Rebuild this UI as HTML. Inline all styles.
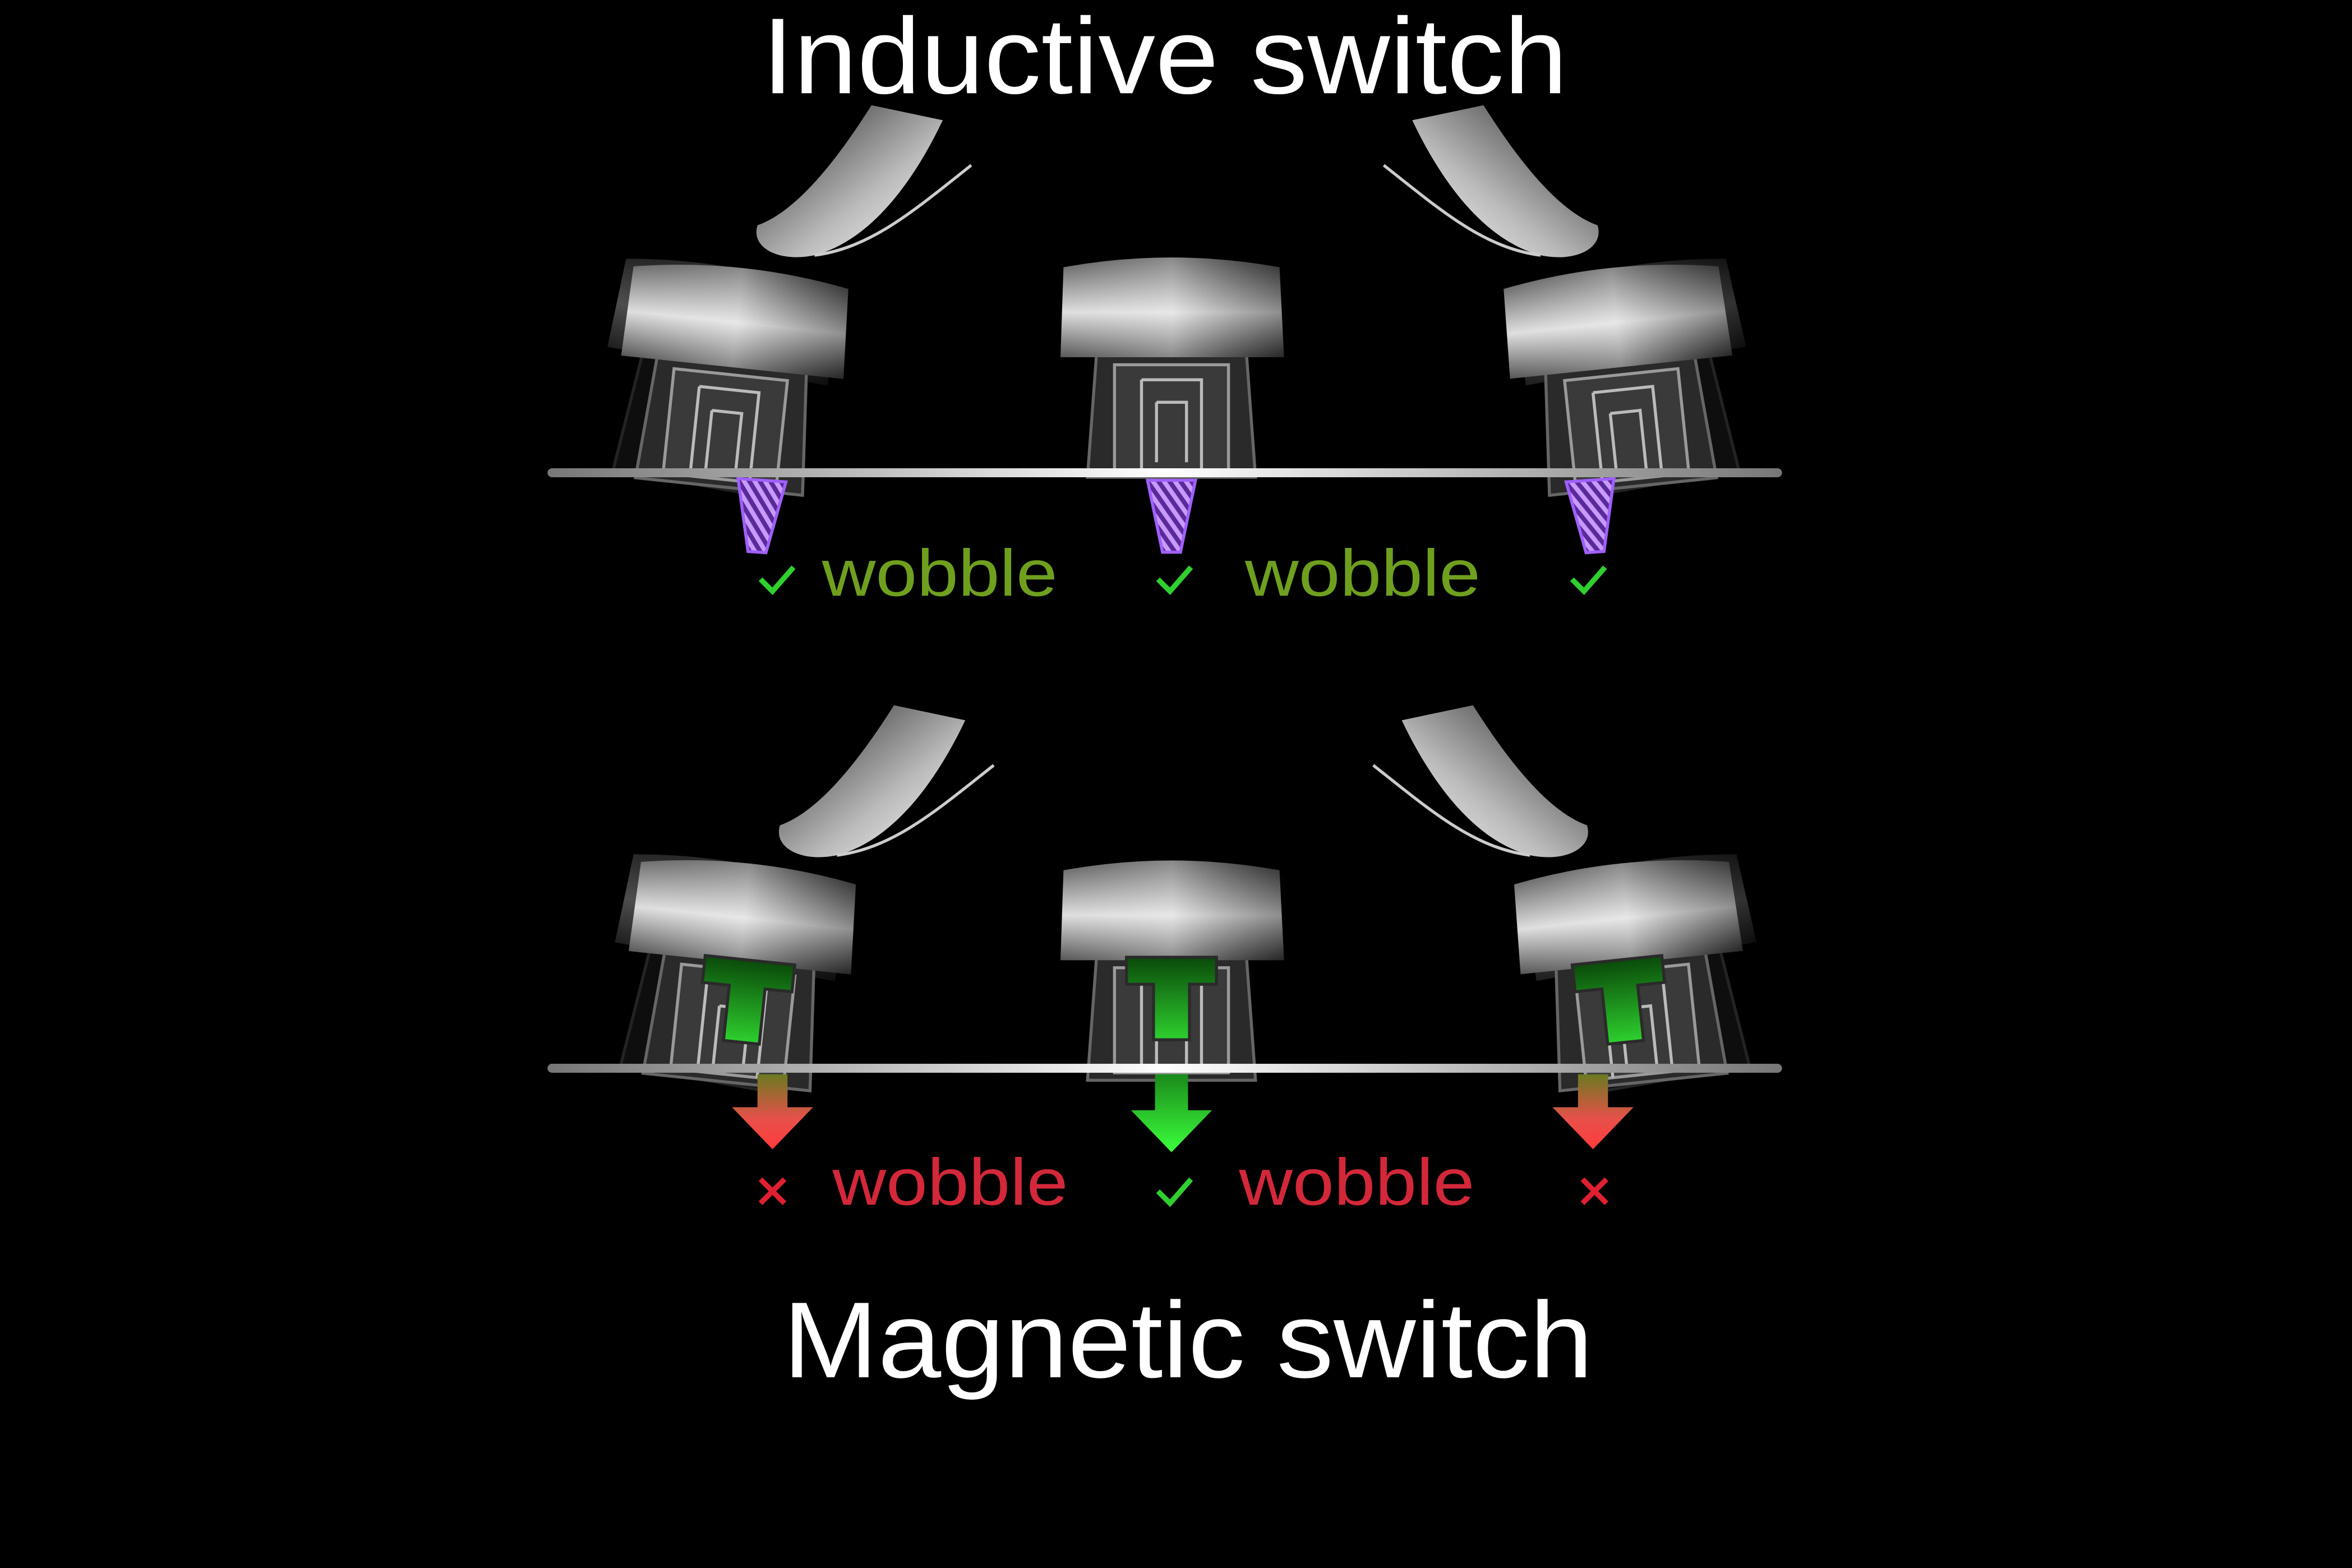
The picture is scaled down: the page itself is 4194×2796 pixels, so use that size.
<!DOCTYPE html>
<html><head><meta charset="utf-8"><style>
html,body{margin:0;padding:0;background:#000;}
svg{display:block;}
text{font-family:"Liberation Sans","DejaVu Sans",sans-serif;}
</style></head><body>
<svg width="4194" height="2796" viewBox="0 0 1568 1045" xmlns="http://www.w3.org/2000/svg">
<defs>
<linearGradient id="cap" x1="0" y1="0" x2="0" y2="1">
<stop offset="0" stop-color="#3a3a3a"/><stop offset="0.55" stop-color="#d8d8d8"/><stop offset="1" stop-color="#3a3a3a"/></linearGradient>
<linearGradient id="capH" x1="0" y1="0" x2="1" y2="0">
<stop offset="0" stop-color="#fff" stop-opacity="0.15"/><stop offset="0.5" stop-color="#fff" stop-opacity="0.4"/><stop offset="1" stop-color="#000" stop-opacity="0.35"/></linearGradient>
<linearGradient id="line" x1="0" y1="0" x2="1" y2="0">
<stop offset="0" stop-color="#777"/><stop offset="0.5" stop-color="#fff"/><stop offset="1" stop-color="#777"/></linearGradient>
<linearGradient id="redA" x1="0" y1="0" x2="0" y2="1">
<stop offset="0" stop-color="#6a7a20"/><stop offset="0.6" stop-color="#e8504a"/><stop offset="1" stop-color="#ff3b3b"/></linearGradient>
<linearGradient id="grnA" x1="0" y1="0" x2="0" y2="1">
<stop offset="0" stop-color="#1a8a1a"/><stop offset="1" stop-color="#3cff3c"/></linearGradient>
<linearGradient id="grnT" x1="0" y1="0" x2="0" y2="1">
<stop offset="0" stop-color="#0a4a0a"/><stop offset="1" stop-color="#2ed02e"/></linearGradient>
<linearGradient id="fing" x1="0" y1="0" x2="1" y2="1">
<stop offset="0" stop-color="#222"/><stop offset="0.6" stop-color="#bbb"/><stop offset="1" stop-color="#fff"/></linearGradient>
<pattern id="hatch" width="6" height="6" patternUnits="userSpaceOnUse" patternTransform="rotate(-35)">
<rect width="6" height="6" fill="#5a2a9a"/><rect width="3" height="6" fill="#c89aff"/></pattern>
<g id="key">
<path d="M-50,68 L50,68 L56,150 L-56,150 Z" fill="#2a2a2a" stroke="#666" stroke-width="2"/>
<path d="M-38,75 L38,75 L38,145 L-38,145 Z" fill="#3a3a3a" stroke="#9a9a9a" stroke-width="2"/>
<path d="M-20,85 L20,85 L20,145 M-20,85 L-20,145 M-10,100 L10,100 L10,140 M-10,100 L-10,140" fill="none" stroke="#bbb" stroke-width="2"/>
<path d="M-72,10 Q0,-3 72,10 L75,70 L-74,70 Z" fill="url(#cap)"/>
<path d="M-72,10 Q0,-3 72,10 L75,70 L-74,70 Z" fill="url(#capH)"/>
</g>
<g id="finger">
<path d="M0,0 C30,-10 60,-50 80,-80 L130,-70 C110,-30 80,10 40,20 C15,25 -5,15 0,0 Z" fill="url(#fing)"/>
<path d="M40,20 C80,15 110,-10 150,-40" fill="none" stroke="#ccc" stroke-width="2"/>
</g>
<g id="cone"><path d="M-16,0 L16,0 L6,48 L-6,48 Z" fill="url(#hatch)" stroke="#a060ff" stroke-width="2"/></g>
<g id="tee"><path d="M-30,0 L30,0 L30,18 L12,18 L12,55 L-12,55 L-12,18 L-30,18 Z" fill="url(#grnT)" stroke="#2a2a2a" stroke-width="2"/></g>
</defs>
<rect width="1568" height="1045" fill="#000"/>
<text x="508" y="62" textLength="537" lengthAdjust="spacingAndGlyphs" font-size="72" fill="#fff">Inductive switch</text>
<text x="522" y="918" textLength="540" lengthAdjust="spacingAndGlyphs" font-size="72" fill="#fff">Magnetic switch</text>

<use href="#finger" transform="translate(505,150) scale(0.95,1)"/>
<use href="#finger" transform="translate(1065,150) scale(-0.95,1)"/>
<use href="#key" transform="translate(490,175) rotate(10)" opacity="0.35"/>
<use href="#key" transform="translate(495,175) rotate(6)"/>
<use href="#key" transform="translate(781,168)"/>
<use href="#key" transform="translate(1078,175) rotate(-10)" opacity="0.35"/>
<use href="#key" transform="translate(1073,175) rotate(-6)"/>
<rect x="365" y="312" width="823" height="6" rx="3" fill="url(#line)"/>
<use href="#cone" transform="translate(508,320) rotate(4)"/>
<use href="#cone" transform="translate(781,320)"/>
<use href="#cone" transform="translate(1060,320) rotate(-4)"/>
<path d="M507,386 l8,8 l14,-16 M772,386 l8,8 l14,-16 M1048,386 l8,8 l14,-16" fill="none" stroke="#2fcf2f" stroke-width="3.5"/>
<text x="548" y="397" textLength="157" lengthAdjust="spacingAndGlyphs" font-size="44" fill="#6f9f1f">wobble</text>
<text x="830" y="397" textLength="157" lengthAdjust="spacingAndGlyphs" font-size="44" fill="#6f9f1f">wobble</text>

<use href="#finger" transform="translate(520,550) scale(0.95,1)"/>
<use href="#finger" transform="translate(1058,550) scale(-0.95,1)"/>
<use href="#key" transform="translate(495,572) rotate(10)" opacity="0.35"/>
<use href="#key" transform="translate(500,572) rotate(6)"/>
<use href="#key" transform="translate(781,570)"/>
<use href="#key" transform="translate(1085,572) rotate(-10)" opacity="0.35"/>
<use href="#key" transform="translate(1080,572) rotate(-6)"/>
<use href="#tee" transform="translate(500,640) rotate(6)"/>
<use href="#tee" transform="translate(781,638)"/>
<use href="#tee" transform="translate(1078,640) rotate(-6)"/>
<rect x="365" y="709" width="823" height="6" rx="3" fill="url(#line)"/>
<path d="M505,716 L525,716 L525,738 L542,738 L515,766 L488,738 L505,738 Z" fill="url(#redA)"/>
<path d="M770,716 L792,716 L792,740 L808,740 L781,768 L754,740 L770,740 Z" fill="url(#grnA)"/>
<path d="M1052,716 L1072,716 L1072,738 L1089,738 L1062,766 L1035,738 L1052,738 Z" fill="url(#redA)"/>
<path d="M507,786 l16,16 M523,786 l-16,16 M1055,786 l16,16 M1071,786 l-16,16" stroke="#e02030" stroke-width="3.5"/>
<path d="M772,794 l8,8 l14,-16" fill="none" stroke="#2fcf2f" stroke-width="3.5"/>
<text x="555" y="803" textLength="157" lengthAdjust="spacingAndGlyphs" font-size="44" fill="#d3283a">wobble</text>
<text x="826" y="803" textLength="157" lengthAdjust="spacingAndGlyphs" font-size="44" fill="#d3283a">wobble</text>
</svg>
</body></html>
